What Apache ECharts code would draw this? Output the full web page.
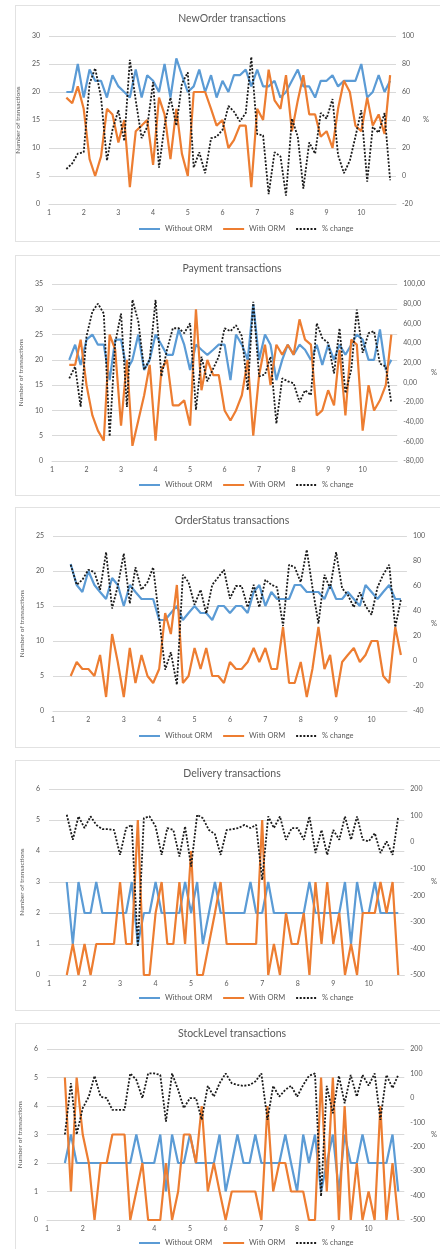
<!DOCTYPE html>
<html>
<head>
<meta charset="utf-8">
<script src="https://cdn.jsdelivr.net/npm/echarts@6/dist/echarts.min.js"></script>
<style>
  body { margin: 0; width: 440px; height: 1249px; overflow: hidden; background: #fff; }
  .box { position: absolute; left: 15px; width: 440px; border: 1px solid #e2e2e2; box-sizing: border-box; }
  .chart { position: absolute; left: 0; width: 440px; }
</style>
</head>
<body>
<div class="box" style="top:5px;height:237px"></div>
<div class="box" style="top:255px;height:241px"></div>
<div class="box" style="top:507px;height:241px"></div>
<div class="box" style="top:760px;height:251px"></div>
<div class="box" style="top:1023px;height:260px"></div>
<div id="c1" class="chart" style="top:5px;height:237px"></div>
<div id="c2" class="chart" style="top:255px;height:241px"></div>
<div id="c3" class="chart" style="top:507px;height:241px"></div>
<div id="c4" class="chart" style="top:760px;height:251px"></div>
<div id="c5" class="chart" style="top:1023px;height:226px"></div>
<script>
// sample times (minutes)
const minutes = [1.5, 1.67, 1.83, 2, 2.17, 2.33, 2.5, 2.67, 2.83, 3, 3.17, 3.33, 3.5, 3.67, 3.83, 4, 4.17, 4.33, 4.5, 4.67, 4.83,
  5, 5.17, 5.33, 5.5, 5.67, 5.83, 6, 6.17, 6.33, 6.5, 6.67, 6.83, 7, 7.17, 7.33, 7.5, 7.67, 7.83, 8, 8.17, 8.33, 8.5, 8.67, 8.83,
  9, 9.17, 9.33, 9.5, 9.67, 9.83, 10, 10.17, 10.33, 10.5, 10.67, 10.83]
const xTicks = [1, 2, 3, 4, 5, 6, 7, 8, 9, 10]
const seriesNames = ['Without ORM', 'With ORM', '% change']

const newOrderWithout = [20, 20, 25, 19, 24, 22, 22, 19, 23, 21, 20, 19, 24, 19, 23, 22, 20, 25, 19, 26, 23, 20, 21, 24, 20, 23, 19, 22, 20, 23,
  23, 24, 21, 24, 21, 21, 22, 19, 20, 22, 24, 21, 21, 19, 22, 22, 23, 21, 22, 22, 22, 25, 19, 20, 23, 20, 22]
const newOrderWith = [19, 18, 21, 17, 8, 5, 8.5, 17, 16, 11, 15, 3, 13, 14, 15, 7, 19, 16, 8, 17, 9, 5, 20, 20, 20, 17, 14, 15, 10, 11.4,
  14, 14, 3, 17, 15, 24, 18.5, 17, 23, 13, 18.5, 23, 16, 16, 12, 13, 10, 17, 22, 20, 14, 13, 19, 14, 16, 12.5, 23]
const newOrderPct = [5, 9, 16, 17, 66, 77, 56, 11, 33, 47, 25, 83, 54, 27, 35, 67, 6, 36, 56, 36, 66, 74, 6, 17, 2, 27, 28, 33, 50, 46,
  39, 45, 85, 30, 29, -13, 17, 14, -14, 41, 28, -9, 24, 16, 45, 41, 55, 15, 2, 11, 28, 47, -4, 35, 31, 45, -3]

const paymentWithout = [20, 23, 19, 24, 25, 23, 23, 16, 24, 24, 18, 20, 25, 18, 20, 25, 23, 21, 21, 26, 23, 18, 23, 22, 21, 22, 23, 23, 16, 25,
  23, 20, 31, 20, 25, 23, 16, 20, 23, 21, 23, 22, 20, 23, 19, 23, 20, 23, 21, 23, 25, 24, 20, 20, 26, 18, 20]
const paymentWith = [19, 19, 24, 15, 9, 6, 4, 25, 22, 7, 20, 3, 8, 13, 19, 4, 18, 20, 11, 11, 12, 7, 30, 14, 20, 17, 17, 10, 8, 10,
  13, 20, 5, 17, 23, 15, 23, 21, 23, 21, 28, 24, 23, 9, 10, 14, 11, 22, 9, 24, 23, 6, 15, 10, 12, 15, 25]
const paymentPct = [4, 16, -25, 47, 72, 80, 70, -55, 40, 70, -25, 84, 62, 13, 23, 84, 6, 33, 55, 55, 50, 60, -28, 26, 1, 14, 26, 55, 52, 58,
  47, -8, 82, 6, 8, 26, -42, 4, 1, -1, -20, -8, -13, 60, 45, 40, 9, 55, -11, 13, 74, 30, 50, 52, 19, 16, -21]

const orderStatusWithout = [21, 18, 17, 20, 18, 17, 16, 19, 18, 15, 18, 17, 16, 16, 16, 13, 13, 14, 15, 13, 14, 15, 14, 14, 13, 15, 15, 14, 15, 15,
  14, 17, 18, 15, 17, 16, 16, 16, 18, 18, 17, 17, 17, 16, 18, 16, 16, 17, 16, 15, 18, 17, 16, 17, 18, 16, 16]
const orderStatusWith = [5, 7, 6, 6, 5, 8, 2, 11, 7, 2, 9, 4, 8, 5, 4, 6, 14, 11, 18, 4, 5, 9, 6, 9, 5, 5, 4, 7, 6, 6,
  7, 9, 7, 9, 6, 6, 12, 4, 4, 7, 2, 6, 12, 6, 8, 2, 7, 8, 9, 7, 8, 10, 10, 5, 4, 12, 8]
const orderStatusPct = [77, 61, 65, 73, 71, 57, 87, 42, 60, 86, 46, 75, 57, 63, 75, 34, -7, 7, -19, 69, 63, 45, 57, 38, 61, 67, 73, 50, 60, 60,
  43, 61, 43, 65, 61, 59, 28, 77, 75, 63, 89, 59, 30, 69, 58, 87, 58, 53, 43, 55, 44, 37, 59, 69, 77, 27, 49]

const deliveryWithout = [3, 1, 3, 2, 2, 3, 2, 2, 2, 2, 2, 3, 1, 2, 2, 3, 2, 2, 2, 2, 3, 2, 3, 1, 2, 3, 2, 2, 2, 2,
  2, 3, 2, 2, 3, 2, 2, 2, 2, 2, 2, 3, 2, 2, 2, 2, 2, 3, 1, 3, 2, 2, 3, 2, 2, 2, 2]
const deliveryWith = [0, 1, 0, 1, 0, 1, 1, 1, 1, 3, 1, 1, 5, 0, 0, 2, 3, 1, 1, 3, 1, 4, 0, 0, 1, 2, 3, 1, 1, 1,
  1, 1, 1, 5, 0, 1, 0, 2, 1, 1, 2, 0, 3, 1, 3, 1, 2, 0, 1, 0, 2, 2, 2, 3, 2, 3, 0]
const deliveryPct = [103, 9, 97, 53, 97, 65, 49, 49, 46, -48, 53, 65, -393, 90, 97, 59, -48, 53, 46, -54, 59, -92, 103, 90, 46, 30, -48, 46, 49, 53,
  65, 53, 65, -142, 97, 53, 97, 9, 53, 53, 9, 97, -41, 46, -48, 46, 9, 97, 9, 97, 9, 3, 34, -41, 3, -48, 97]

const stockLevelWithout = [2, 3, 2, 2, 2, 2, 2, 2, 2, 2, 2, 2, 3, 2, 2, 2, 3, 1, 3, 2, 2, 3, 2, 2, 2, 2, 3, 1, 2, 3,
  2, 2, 3, 2, 2, 2, 2, 3, 2, 1, 3, 2, 3, 1, 2, 3, 1, 3, 2, 2, 3, 2, 2, 2, 2, 3, 1]
const stockLevelWith = [5, 1, 5, 3, 2, 0, 2, 2, 3, 3, 3, 0, 1, 2, 0, 0, 0, 2, 0, 1, 3, 3, 2, 4, 1, 2, 1, 0, 1, 1,
  1, 1, 1, 0, 4, 1, 2, 2, 1, 1, 1, 0, 0, 5, 1, 5, 0, 4, 0, 2, 0, 1, 0, 4, 0, 2, 0]
const stockLevelPct = [-150, 60, -150, -42, 5, 90, 5, -1, -49, -49, -49, 100, 74, -1, 100, 100, 94, -97, 100, 33, -42, -1, -1, -90, 49, 5, 60, 100, 60, 53,
  49, 53, 67, 100, -90, 49, 5, 33, 49, 5, 53, 90, 100, -403, 49, -63, 90, -22, 94, 5, 94, 50, 100, -90, 94, 40, 94]

const FONT = 'Lato, "Open Sans", sans-serif'
const GREY = '#595959'
const BLUE = '#5B9BD5'
const ORANGE = '#ED7D31'

const panels = [
  { id: 'c1', title: 'NewOrder transactions', data: [newOrderWithout, newOrderWith, newOrderPct],
    left: [0, 30, 5], right: [-20, 100, 20], decimals: 0,
    grid: { left: 49, right: 44, top: 31, height: 168 }, titleTop: 8, legendTop: 220, nameGap: 21, pctGap: 27 },
  { id: 'c2', title: 'Payment transactions', data: [paymentWithout, paymentWith, paymentPct],
    left: [0, 35, 5], right: [-80, 100, 20], decimals: 2,
    grid: { left: 52, right: 35, top: 29, height: 177 }, titleTop: 8, legendTop: 226, nameGap: 23, pctGap: 31 },
  { id: 'c3', title: 'OrderStatus transactions', data: [orderStatusWithout, orderStatusWith, orderStatusPct],
    left: [0, 25, 5], right: [-40, 100, 20], decimals: 0,
    grid: { left: 53, right: 27, top: 29, height: 175 }, titleTop: 8, legendTop: 225, nameGap: 24, pctGap: 23 },
  { id: 'c4', title: 'Delivery transactions', data: [deliveryWithout, deliveryWith, deliveryPct],
    left: [0, 6, 1], right: [-500, 200, 100], decimals: 0,
    grid: { left: 49, right: 27, top: 29, height: 186 }, titleTop: 8, legendTop: 234, nameGap: 20, pctGap: 23 },
  { id: 'c5', title: 'StockLevel transactions', data: [stockLevelWithout, stockLevelWith, stockLevelPct],
    left: [0, 6, 1], right: [-500, 200, 100], decimals: 0,
    grid: { left: 47, right: 26, top: 26, height: 171 }, titleTop: 5, legendTop: 216, nameGap: 18, pctGap: 23 }
]

function pairs(values) {
  return minutes.map((t, i) => [t, values[i]])
}

function initChart(p) {
  const chart = echarts.init(document.getElementById(p.id))
  const label = { color: GREY, fontSize: 7, fontFamily: FONT }
  const option = {
    animation: false,
    textStyle: { fontFamily: FONT },
    title: {
      text: p.title,
      left: 232,
      textAlign: 'center',
      top: p.titleTop,
      padding: 0,
      textStyle: { color: GREY, fontSize: 10.5, fontWeight: 'normal', fontFamily: FONT }
    },
    legend: {
      data: seriesNames,
      left: 138,
      top: p.legendTop,
      padding: 0,
      itemWidth: 21,
      itemHeight: 7,
      itemGap: 10,
      // hide the marker in the middle of each legend line
      itemStyle: { color: 'transparent', borderWidth: 0, opacity: 0 },
      textStyle: { color: GREY, fontSize: 7.5, fontFamily: FONT }
    },
    grid: p.grid,
    xAxis: {
      type: 'value',
      min: 1,
      max: 11,
      interval: 1,
      axisLine: { onZero: false, lineStyle: { color: '#d9d9d9' } },
      axisTick: { show: false },
      splitLine: { show: false },
      axisLabel: Object.assign({ margin: 5, formatter: v => xTicks.includes(v) ? String(v) : '' }, label)
    },
    yAxis: [
      {
        type: 'value',
        min: p.left[0], max: p.left[1], interval: p.left[2],
        name: 'Number of transactions',
        nameLocation: 'middle',
        nameGap: p.nameGap,
        nameTextStyle: { color: GREY, fontSize: 6.5, fontFamily: FONT },
        axisLine: { show: false },
        axisTick: { show: false },
        splitLine: { lineStyle: { color: '#d9d9d9' } },
        axisLabel: Object.assign({ margin: 9 }, label)
      },
      {
        type: 'value',
        min: p.right[0], max: p.right[1], interval: p.right[2],
        name: '%',
        nameLocation: 'middle',
        nameRotate: 0,
        nameGap: p.pctGap,
        nameTextStyle: { color: GREY, fontSize: 7.5, fontFamily: FONT },
        axisLine: { show: false },
        axisTick: { show: false },
        splitLine: { show: false },
        axisLabel: Object.assign({
          margin: 6,
          formatter: v => p.decimals ? v.toFixed(p.decimals).replace('.', ',') : String(v)
        }, label)
      }
    ],
    series: [
      {
        name: seriesNames[0], type: 'line', symbol: 'none', yAxisIndex: 0,
        data: pairs(p.data[0]),
        lineStyle: { color: BLUE, width: 2.2 }, itemStyle: { color: BLUE }
      },
      {
        name: seriesNames[1], type: 'line', symbol: 'none', yAxisIndex: 0,
        data: pairs(p.data[1]),
        lineStyle: { color: ORANGE, width: 2.2 }, itemStyle: { color: ORANGE }
      },
      {
        name: seriesNames[2], type: 'line', symbol: 'none', yAxisIndex: 1,
        data: pairs(p.data[2]),
        lineStyle: { color: '#1a1a1a', width: 1.8, type: [2, 1.6] }, itemStyle: { color: '#1a1a1a' }
      }
    ]
  }
  chart.setOption(option)
}

panels.forEach(initChart)
</script>
</body>
</html>
